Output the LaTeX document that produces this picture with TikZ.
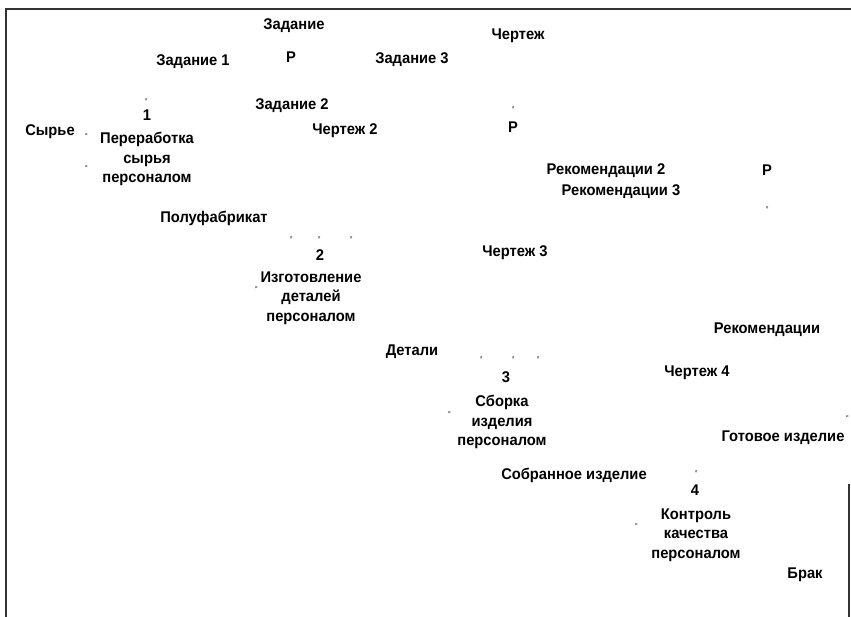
\documentclass[tikz,border=0pt]{standalone}
\usepackage{fontspec}
\setmainfont{Liberation Sans}
\newfontfamily\lblfont[FakeStretch=0.95]{Liberation Sans}
\usetikzlibrary{arrows.meta}
\tikzset{
  lbl/.style={font=\lblfont\bfseries\fontsize{15.5}{19.5}\selectfont, inner sep=0pt, align=center, text=black},
  frameline/.style={line width=1.1pt, black!80},
  tipmark/.style={-{Stealth[length=3pt,width=2.5pt]}, line width=0.3pt, black!45},
}
\begin{document}
\begin{tikzpicture}[x=1pt,y=-1pt]
\useasboundingbox (0,0) rectangle (851,617);
% frame remnants
\coordinate (fTL) at (6,9);
\coordinate (fTR) at (851,9);
\coordinate (fBL) at (6,617);
\coordinate (fRT) at (849,484);
\coordinate (fRB) at (849,617);
\draw[frameline] (fBL) -- (fTL) -- (fTR);
\draw[frameline] (fRT) -- (fRB);

% labels
\node[lbl] (zad) at (294,26) {Задание};
\node[lbl] (zad1) at (193,62) {Задание 1};
\node[lbl] (p1) at (291,57) {Р};
\node[lbl] (zad3) at (412,60) {Задание 3};
\node[lbl] (cher) at (518,36) {Чертеж};
\node[lbl] (zad2) at (292,106) {Задание 2};
\node[lbl] (n1) at (147,115) {1};
\node[lbl] (syr) at (50,132) {Сырье};
\node[lbl] (b1) at (147,159) {Переработка\\сырья\\персоналом};
\node[lbl] (cher2) at (345,131) {Чертеж 2};
\node[lbl] (p2) at (513,127) {Р};
\node[lbl] (rek2) at (606,171) {Рекомендации 2};
\node[lbl] (rek3) at (621,192) {Рекомендации 3};
\node[lbl] (p3) at (767,170) {Р};
\node[lbl] (pf) at (214,218) {Полуфабрикат};
\node[lbl] (n2) at (320,255) {2};
\node[lbl] (b2) at (311,298) {Изготовление\\деталей\\персоналом};
\node[lbl] (cher3) at (515,253) {Чертеж 3};
\node[lbl] (rek) at (767,330) {Рекомендации};
\node[lbl] (det) at (412,352) {Детали};
\node[lbl] (n3) at (506,377) {3};
\node[lbl] (b3) at (502,422) {Сборка\\изделия\\персоналом};
\node[lbl] (cher4) at (697,373) {Чертеж 4};
\node[lbl] (got) at (783,438) {Готовое изделие};
\node[lbl] (sob) at (574,475) {Собранное изделие};
\node[lbl] (n4) at (695,490) {4};
\node[lbl] (b4) at (696,535) {Контроль\\качества\\персоналом};
\node[lbl] (brak) at (805,575) {Брак};

% faint arrow-tip remnants
\foreach \x/\y in {146/101, 291/239, 319/239, 351/239, 481/359, 513/359, 538/359, 696/473, 513/109, 767/209}
  \draw[tipmark] (\x,\y-3) -- (\x,\y);
\foreach \x/\y in {88/134, 88/166, 258/287, 451/412, 638/524, 849/416}
  \draw[tipmark] (\x-3,\y) -- (\x,\y);
\end{tikzpicture}
\end{document}
